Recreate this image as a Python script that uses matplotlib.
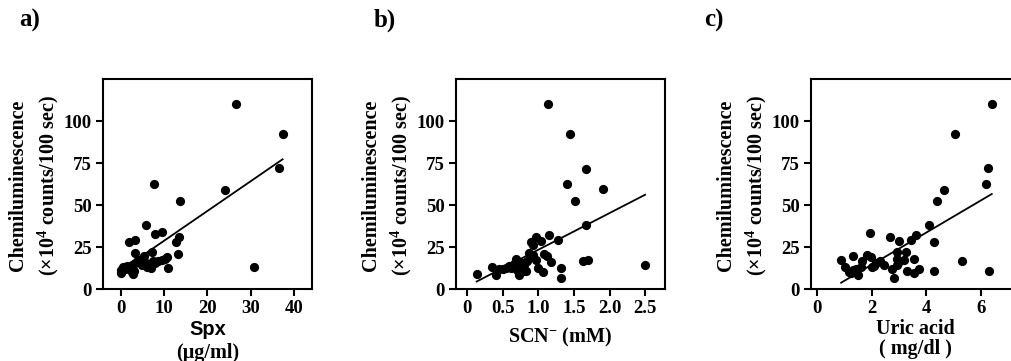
import matplotlib
matplotlib.use("Agg")
import matplotlib.pyplot as plt
import numpy as np

# ---------------------------------------------------------------------------
# Data
# ---------------------------------------------------------------------------
spx_x = [26.6, 37.4, 36.5, 24.1, 7.7, 13.8, 30.7, 5.8, 9.5, 7.9, 13.5, 12.7,
         13.3, 1.9, 3.2, 3.4, 7.3, 11.0, 5.4,
         0.0, 0.0, 0.6, 1.4, 2.0, 2.5, 2.9, 2.2, 3.3, 4.1, 4.6, 5.2, 5.8, 6.6,
         7.0, 7.5, 8.5, 9.5, 10.2, 10.6, 3.0, 1.0, 4.8, 6.0, 8.0, 2.6]
spx_y = [110.1, 92.1, 71.9, 59.2, 62.6, 52.5, 13.0, 37.8, 33.7, 32.5, 31.1, 28.1,
         20.6, 28.1, 28.9, 21.2, 21.8, 12.7, 19.8,
         11.3, 9.5, 12.9, 13.9, 11.7, 10.3, 8.7, 13.3, 15.6, 17.2, 15.8, 17.2, 15.6, 14.3,
         12.3, 16.6, 16.6, 17.2, 18.0, 18.8, 11.0, 12.0, 14.5, 13.0, 15.5, 14.5]

scn_x = [1.13, 1.44, 1.67, 1.40, 1.91, 1.51, 1.67, 2.50, 1.69, 1.63, 0.13, 1.32,
         1.32, 1.28, 1.15, 0.96, 1.03, 0.90, 1.08, 1.12, 1.18, 1.00, 1.07, 0.97,
         0.92, 0.88, 0.84, 0.80, 0.78, 0.72, 0.70, 0.74, 0.69, 0.66, 0.62, 0.59,
         0.55, 0.50, 0.45, 0.40, 0.35, 0.82, 0.76, 0.86, 0.92]
scn_y = [110.0, 92.0, 71.7, 62.4, 59.3, 52.3, 37.8, 14.3, 17.4, 16.6, 9.2, 6.5,
         12.7, 28.9, 32.3, 31.0, 28.5, 28.0, 21.0, 19.5, 16.0, 12.3, 10.2, 17.5,
         20.5, 19.0, 16.5, 14.0, 10.5, 8.2, 11.5, 16.0, 18.0, 15.0, 12.5, 13.5,
         12.5, 11.8, 12.0, 8.5, 13.0, 11.0, 13.5, 21.5, 26.0]

uric_x = [6.39, 5.05, 6.27, 6.18, 4.66, 4.38, 4.08, 4.28, 5.32, 4.28, 6.30, 3.63,
          3.43, 3.00, 2.68, 1.95, 0.89, 1.03, 1.16, 1.34, 1.34, 1.52, 1.61, 1.64,
          1.82, 1.97, 2.00, 2.10, 2.31, 2.46, 2.76, 2.83, 2.92, 2.92, 2.98, 3.19,
          3.26, 3.28, 3.56, 3.56, 3.75, 2.92, 1.25, 1.45, 2.15]
uric_y = [110.0, 92.0, 71.9, 62.5, 59.2, 52.5, 37.9, 28.1, 16.6, 10.9, 10.9, 32.2,
          29.1, 28.3, 31.1, 33.4, 17.4, 13.1, 10.2, 19.9, 11.1, 8.6, 13.1, 16.4,
          20.5, 18.9, 13.1, 13.5, 16.4, 14.1, 12.1, 6.6, 21.9, 18.0, 15.4, 17.0,
          21.9, 10.5, 18.0, 9.6, 12.1, 14.1, 9.5, 12.0, 15.5]

# regression lines (slope, intercept)
fit_a = (1.77, 11.0)
fit_b = (21.8, 1.6)
fit_c = (9.6, -4.8)

y_ticks = [0, 25, 50, 75, 100]

# ---------------------------------------------------------------------------
# Figure
# ---------------------------------------------------------------------------
plt.rcParams['font.family'] = ['Liberation Serif', 'DejaVu Serif']
plt.rcParams['font.weight'] = 'bold'
plt.rcParams['mathtext.fontset'] = 'custom'
plt.rcParams['mathtext.rm'] = 'Liberation Serif:bold'
plt.rcParams['mathtext.bf'] = 'Liberation Serif:bold'
plt.rcParams['mathtext.default'] = 'rm'

W, H = 1011, 361
fig = plt.figure(figsize=(W / 100, H / 100), dpi=100)

FS_TICK = 13.5
FS = 14.5
panels = [
    dict(left=103, xs=spx_x, ys=spx_y, fit=fit_a, xlim=(-4.1, 44.2),
         xticks=[0, 10, 20, 30, 40], xticklabels=['0', '10', '20', '30', '40'],
         tag='a)', tag_x=19),
    dict(left=456, xs=scn_x, ys=scn_y, fit=fit_b, xlim=(-0.16, 2.78),
         xticks=[0, 0.5, 1.0, 1.5, 2.0, 2.5],
         xticklabels=['0', '0.5', '1.0', '1.5', '2.0', '2.5'],
         tag='b)', tag_x=374),
    dict(left=811, xs=uric_x, ys=uric_y, fit=fit_c, xlim=(-0.21, 7.42),
         xticks=[0, 2, 4, 6], xticklabels=['0', '2', '4', '6'],
         tag='c)', tag_x=704),
]

axes = []
for p in panels:
    ax = fig.add_axes([p['left'] / W, 1 - 289 / H, 209 / W, 210 / H])
    axes.append(ax)
    ax.scatter(p['xs'], p['ys'], s=44, color='black', zorder=3, linewidths=0)
    xs = np.array(p['xs'])
    xl = np.array([xs.min(), xs.max()])
    ax.plot(xl, p['fit'][0] * xl + p['fit'][1], color='black', lw=1.3, zorder=2)
    ax.set_xlim(*p['xlim'])
    ax.set_ylim(0, 125)
    ax.set_xticks(p['xticks'])
    ax.set_xticklabels(p['xticklabels'])
    ax.set_yticks(y_ticks)
    for s in ax.spines.values():
        s.set_linewidth(1.5)
    ax.tick_params(direction='out', length=5, width=1.5, labelsize=FS_TICK, pad=3)
    for lab in ax.get_xticklabels() + ax.get_yticklabels():
        lab.set_fontweight('bold')

    ax.text(-85 / 209, 0.495, 'Chemiluminescence', transform=ax.transAxes,
            rotation=90, ha='center', va='center', fontsize=FS, fontweight='bold')
    ax.text(-55 / 209, 0.495, '(×10$^{4}$ counts/100 sec)', transform=ax.transAxes,
            rotation=90, ha='center', va='center', fontsize=FS, fontweight='bold')
    fig.text(p['tag_x'] / W, 1 - 20 / H, p['tag'], fontsize=18, fontweight='bold',
             ha='left', va='center')

# x-axis labels
ax = axes[0]
ax.text(0.5, -0.195, 'Spx', transform=ax.transAxes, ha='center', va='center',
        fontsize=FS, fontweight='bold', family='Liberation Sans')
ax.text(0.5, -0.305, '(μg/ml)', transform=ax.transAxes, ha='center', va='center',
        fontsize=FS, fontweight='bold')
ax = axes[1]
ax.text(0.5, -0.229, 'SCN$^{-}$ (mM)', transform=ax.transAxes, ha='center',
        va='center', fontsize=FS, fontweight='bold')
ax = axes[2]
ax.text(0.5, -0.19, 'Uric acid', transform=ax.transAxes, ha='center', va='center',
        fontsize=FS, fontweight='bold')
ax.text(0.5, -0.286, '( mg/dl )', transform=ax.transAxes, ha='center', va='center',
        fontsize=FS, fontweight='bold')

fig.savefig('out.png', dpi=100)
